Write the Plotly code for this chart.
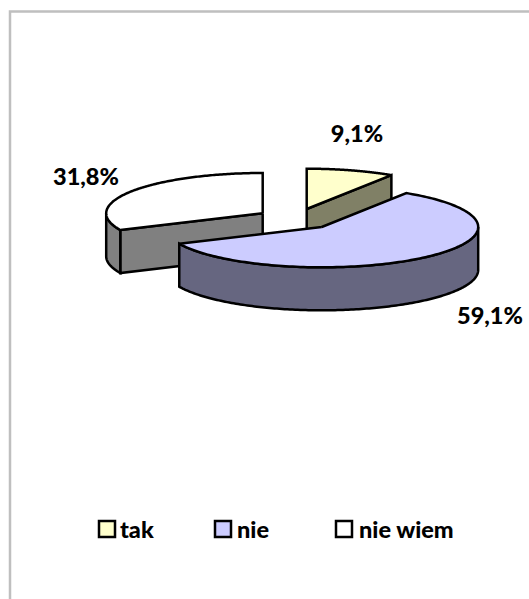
import numpy as np
import plotly.graph_objects as go

# Data
categories = ["tak", "nie", "nie wiem"]
shares = [9.1, 59.1, 31.8]

# Styles
top_colors = ["#FFFFCC", "#CCCCFF", "#FFFFFF"]
wall_colors = ["#808066", "#666680", "#808080"]
FONT = "Lato, Carlito, Calibri, 'Open Sans', sans-serif"
TEXT_SIZE = 23.5
TEXT_WEIGHT = 900
LINE_W = 2.5

# Layout of the exploded pie on the pixel canvas
W, H = 529, 599
RX, RY, DEPTH = 156.5, 40.3, 43.0
apexes = [(306.7, 209.0), (321.7, 227.0), (262.7, 213.3)]
label_pos = [(357, 136), (490, 318), (86, 179)]
legend_marker_x = [107, 223, 344]
legend_text_x = [120, 237, 359]
LEGEND_Y = 529


def pt(apex, a, dz=0.0):
    """Project pie angle a (radians clockwise from 12 o'clock) to the canvas."""
    return apex[0] + RX * np.sin(a), apex[1] - RY * np.cos(a) + dz


fractions = np.array(shares) / sum(shares)
edges = np.concatenate([[0], np.cumsum(fractions)]) * 2 * np.pi

fig = go.Figure()


def poly(xs, ys, fill):
    fig.add_trace(go.Scatter(
        x=list(xs), y=list(ys), mode="lines", fill="toself", fillcolor=fill,
        line=dict(color="#000000", width=LINE_W, simplify=False),
        hoverinfo="skip", showlegend=False, cliponaxis=False,
    ))


def arc(i, a0, a1, dz=0.0):
    a = np.linspace(a0, a1, 160)
    return pt(apexes[i], a, dz)


def top(i):
    x, y = arc(i, edges[i], edges[i + 1])
    poly(np.r_[apexes[i][0], x, apexes[i][0]], np.r_[apexes[i][1], y, apexes[i][1]], top_colors[i])


def outer_wall(i, a0, a1):
    x, y = arc(i, a0, a1)
    xb, yb = arc(i, a0, a1, DEPTH)
    poly(np.r_[x, xb[::-1], x[0]], np.r_[y, yb[::-1], y[0]], wall_colors[i])


def radial_wall(i, a):
    ax, ay = apexes[i]
    ex, ey = pt(apexes[i], a)
    poly([ax, ex, ex, ax, ax], [ay, ey, ey + DEPTH, ay + DEPTH, ay], wall_colors[i])


# Back to front: "nie wiem", then "tak", then "nie"
radial_wall(2, edges[2])
outer_wall(2, edges[2], 1.5 * np.pi)
top(2)
radial_wall(0, edges[1])
top(0)
outer_wall(1, 0.5 * np.pi, edges[2])
top(1)

# Percentage labels
fig.add_trace(go.Scatter(
    x=[p[0] for p in label_pos], y=[p[1] for p in label_pos], mode="text",
    text=[f"{v:.1f}%".replace(".", ",") for v in shares],
    textposition="middle center",
    textfont=dict(family=FONT, size=TEXT_SIZE, color="#000000", weight=TEXT_WEIGHT),
    hoverinfo="skip", showlegend=False, cliponaxis=False,
))

# Legend
fig.add_trace(go.Scatter(
    x=legend_marker_x, y=[LEGEND_Y] * 3, mode="markers",
    marker=dict(symbol="square", size=16, color=top_colors, line=dict(color="#000000", width=2.5)),
    hoverinfo="skip", showlegend=False, cliponaxis=False,
))
fig.add_trace(go.Scatter(
    x=legend_text_x, y=[LEGEND_Y + 3] * 3, mode="text", text=categories,
    textposition="middle right",
    textfont=dict(family=FONT, size=TEXT_SIZE, color="#000000", weight=TEXT_WEIGHT),
    hoverinfo="skip", showlegend=False, cliponaxis=False,
))

fig.update_layout(
    width=W, height=H, margin=dict(l=0, r=0, t=0, b=0),
    paper_bgcolor="#FFFFFF", plot_bgcolor="#FFFFFF", showlegend=False,
    xaxis=dict(range=[0, W], visible=False, fixedrange=True),
    yaxis=dict(range=[H, 0], visible=False, fixedrange=True),
    shapes=[dict(type="rect", xref="x", yref="y", x0=10, y0=11.5, x1=W + 20, y1=H + 20,
                 line=dict(color="#BFBFBF", width=2.5), layer="below")],
)

fig.write_html("out.html", config=dict(displayModeBar=False),
               post_script="document.body.style.margin='0';document.documentElement.style.overflow='hidden';")
